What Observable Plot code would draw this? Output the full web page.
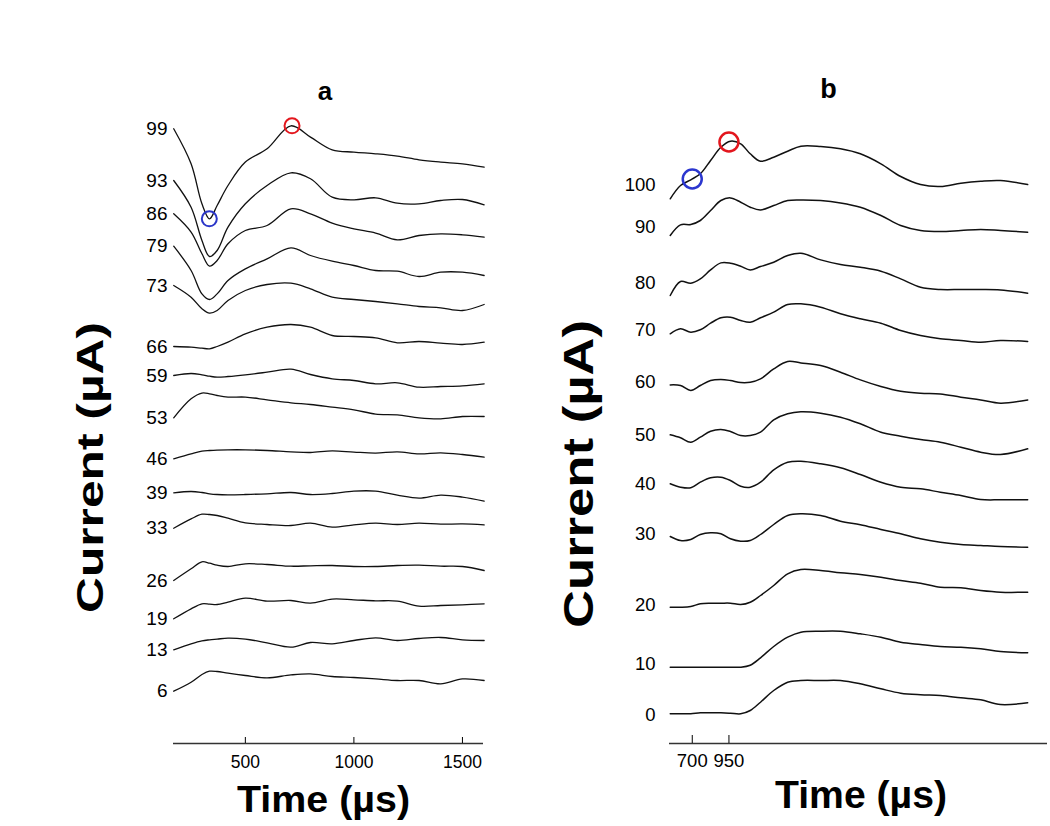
<!DOCTYPE html>
<html><head><meta charset="utf-8">
<script src="https://cdn.jsdelivr.net/npm/d3@7"></script>
<script src="https://cdn.jsdelivr.net/npm/@observablehq/plot@0.6"></script>
<style>
html,body{margin:0;padding:0;background:#fff;}
#wrap{position:relative;width:1050px;height:826px;display:flex;overflow:hidden;}
#pa,#pb{width:525px;height:826px;}
#overlay{position:absolute;left:0;top:0;pointer-events:none;}
</style></head><body>
<div id="wrap"><div id="pa"></div><div id="pb"></div>
<svg id="overlay" width="1050" height="826" font-family="'Liberation Sans', Arial, sans-serif" font-weight="bold" fill="#000">
<text x="325" y="100" font-size="26" text-anchor="middle">a</text>
<text x="828.5" y="98" font-size="27" text-anchor="middle">b</text>
<text x="323.5" y="811.5" font-size="37" text-anchor="middle" textLength="173" lengthAdjust="spacingAndGlyphs">Time (µs)</text>
<text x="861" y="808" font-size="39" text-anchor="middle" textLength="172" lengthAdjust="spacingAndGlyphs">Time (µs)</text>
<text transform="translate(103.3,467.5) rotate(-90)" font-size="37" text-anchor="middle" textLength="291" lengthAdjust="spacingAndGlyphs">Current (µA)</text>
<text transform="translate(593.3,474) rotate(-90)" font-size="42" text-anchor="middle" textLength="308" lengthAdjust="spacingAndGlyphs">Current (µA)</text>
</svg></div>
<script>
// ---------- Panel a ----------
const timesA = [170, 250, 300, 335, 370, 420, 500, 600, 710, 800, 900, 1000, 1100, 1200, 1300, 1400, 1500, 1600];
const ticksA = [500, 1000, 1500];
const labelsA = ["99","93","86","79","73","66","59","53","46","39","33","26","19","13","6"];
const levelsA = [614.7, 563, 529.7, 497.3, 458, 397, 368, 325.7, 284.7, 250.7, 215.3, 163, 124.7, 93.7, 52.3];
const a99 = [0, -35, -75, -90, -76.7, -56.7, -33.3, -20, 3, -8.3, -21, -23.3, -25, -27.3, -31, -33.3, -35, -38.3];
const a93 = [0, -26.7, -60, -76, -70, -46.7, -23.3, -5, 7.7, 1.7, -16.7, -19.3, -17.3, -22.7, -23.3, -20, -19, -24.3];
const a86 = [0, -18.3, -40, -52.3, -46.7, -30, -16.7, -11.7, 5, 0, -9.3, -15, -19.3, -26, -21.7, -20, -21, -23.3];
const a79 = [0, -24.3, -47.7, -53.3, -47.7, -34.3, -22.7, -12.7, -1.7, -9.3, -15, -19.3, -24.3, -25, -30.3, -26, -26, -29.3];
const a73 = [0, -11.7, -23.3, -27.7, -25, -15, -5, 1, 2.3, -3.3, -11.7, -14, -16, -18.3, -21, -22.3, -25, -19];
const a66 = [0, -0.7, -1.7, -2.3, 0, 4.3, 12.7, 19.3, 22, 19.3, 11, 10, 8.7, 3.7, 5, 3.3, 2, 4.3];
const a59 = [0, 2, 0.7, -0.7, -1.7, -1, 0.7, 3.3, 6.3, 1, -3.3, -5, -8.3, -7.3, -11.7, -11, -10.3, -8.3];
const a53 = [0, 19, 24.7, 24, 22.3, 20.7, 20.7, 18, 15, 13.3, 10.7, 8, 3.7, 3, 0, -1, 1.3, 1.3];
const a46 = [0, 5, 7.7, 8.3, 8.7, 9, 9, 8.3, 7, 6.3, 8, 6.7, 5.7, 7, 5, 6, 4.3, 1.7];
const a39 = [0, 1.3, 0.3, -1, -1.7, -2, -1.7, -1, 0.3, -1.7, -0.7, 1.7, 1.7, -2.3, -5.3, -2.3, -4.3, -8.3];
const a33 = [0, 9.3, 14, 13.7, 12.7, 10, 5.3, 3.7, 2.7, 5, 1, 3.3, 5, 3.7, 5, 4, 4.3, 3.3];
const a26 = [0, 11.7, 18.7, 17.3, 15.3, 14, 16.7, 16, 14.3, 14.7, 15, 14, 14, 15, 15.3, 14.3, 14, 10];
const a19 = [0, 10, 15, 14.7, 14.3, 16.7, 20.7, 17.7, 18.3, 15.7, 19.7, 19, 18, 17.7, 12.7, 13.3, 14, 15];
const a13 = [0, 6, 9, 10, 10.7, 11.7, 10.7, 7, 2.7, 7.3, 6, 9.3, 12, 9.3, 11.3, 12.3, 10, 9.3];
const a6  = [0, 9, 16.7, 20, 19.7, 18, 15.7, 13.3, 16.3, 17.3, 14.7, 13.7, 12.3, 10.7, 10.7, 7.3, 12.3, 10.7];
const tracesA = [a99, a93, a86, a79, a73, a66, a59, a53, a46, a39, a33, a26, a19, a13, a6];
const markTimesA = [334, 715];
const markValuesA = [524.7, 617.7];
const markColorsA = ["#2b36c8", "#e3161d"];

// ---------- Panel b ----------
const timesB = [550, 620, 690, 755, 825, 895, 960, 1030, 1095, 1165, 1255, 1350, 1440, 1575, 1710, 1845, 1985, 2120, 2255, 2390, 2530, 2665, 2800, 2985];
const ticksB = [700, 950];
const labelsB = ["100","90","80","70","60","50","40","30","20","10","0"];
const levelsB = [558, 516.3, 460.3, 413, 361.3, 308, 259, 209, 138, 79, 28];
const b100 = [-13.3, 0, 5.7, 11.7, 25, 38.3, 44.3, 41.7, 31.7, 24.3, 28.3, 34.3, 39.3, 39, 36.7, 31.7, 21.7, 9, 1, -1, 2.3, 4.3, 5, 1];
const b90  = [-8.3, 2.3, 2.7, 6.7, 16.7, 26.7, 29.3, 25, 20, 17.3, 21.7, 26.7, 27.3, 26.7, 24.3, 20, 11.7, 1.7, -3.3, -4.3, -3.3, -2.3, -3.3, -5];
const b80  = [-12.3, 1.7, 0, 4.3, 13.3, 20.3, 20, 17, 13.3, 16.7, 21, 27.7, 30, 23.3, 18.7, 16, 12, 4.3, -4, -6.3, -6.3, -6.3, -6.7, -10];
const b70  = [-3.3, 1.7, -1.7, 0.7, 7.3, 12.7, 13.3, 10, 8.3, 12.7, 18.3, 26, 26.7, 23.3, 16.7, 11.7, 7.3, 0, -5, -8.3, -10, -11.7, -10, -11];
const b60  = [-2.7, -3.3, -8.3, -3.3, 1.7, 2.7, 1.7, -0.3, 0, 3.3, 13.3, 20.7, 19.3, 16.7, 10, 2.3, -4.3, -9, -11, -11.7, -15, -17.7, -21, -17.7];
const b50  = [0.7, -2.3, -6.7, -1.7, 4.3, 6, 4, 0, 0, 3.3, 15.7, 21.7, 23.7, 22.3, 18.3, 11.7, 3.3, -0.7, -4, -6.7, -11.7, -16.7, -19, -13.3];
const b40  = [0.7, -2.7, -3.3, 2.3, 6.7, 7.3, 4, -1.7, -2.7, 2.3, 14.7, 22.3, 23.3, 20.7, 16.7, 10, 2.3, -2.7, -4.3, -7.7, -11, -15, -15.3, -15.3];
const b30  = [-2, -6, -5, 0, 1.7, 0.7, -4.3, -6.7, -6, 0, 10, 19, 20.7, 19, 13.3, 9.7, 5, 0.7, -4.3, -7.7, -10, -11, -12, -12.7];
const b20  = [-1.7, -1.7, -1, 1.7, 2.3, 2.3, 2.3, 1, 3.3, 10, 20, 31.7, 36, 35, 32.7, 31, 28.3, 25, 22.3, 18.3, 17.7, 15, 13.3, 13.3];
const b10  = [-2.7, -2.7, -2.7, -2.7, -2.7, -2.7, -2.7, -2.7, -0.7, 6.7, 18, 27.3, 32.3, 33.3, 33.3, 30.7, 27.3, 22.3, 20, 18, 17.3, 15.7, 13, 11.7];
const b0   = [1.7, 1.7, 1.7, 2.7, 2.7, 2.7, 2.3, 1.7, 5, 13.3, 25, 33.3, 35, 35, 35, 31.7, 26.7, 22.3, 20.7, 20, 17.7, 15.7, 11, 12.7];
const tracesB = [b100, b90, b80, b70, b60, b50, b40, b30, b20, b10, b0];
const markTimesB = [700, 950];
const markValuesB = [564.5, 601.5];
const markColorsB = ["#2b36cf", "#e3161d"];

function rowsFor(times, levels, labels, traces) {
  return traces.flatMap((tr, i) => tr.map((d, j) => ({t: times[j], v: levels[i] + d, id: labels[i]})));
}
function marksFor(times, values, colors) {
  return times.map((t, i) => ({t, v: values[i], c: colors[i]}));
}

const font = "'Liberation Sans', Arial, sans-serif";

const mapA = new Map(levelsA.map((l, i) => [l, labelsA[i]]));
const chartA = Plot.plot({
  width: 525, height: 826,
  marginLeft: 173, marginRight: 42, marginTop: 103, marginBottom: 83,
  x: {domain: [169, 1597], label: null},
  y: {domain: [0, 640], label: null},
  color: {type: "identity"},
  style: {fontFamily: font, fontSize: "17.5px", color: "#000", background: "#fff", overflow: "visible"},
  marks: [
    Plot.ruleY([0], {stroke: "#333", strokeWidth: 1.5}),
    Plot.axisX({ticks: ticksA, tickSize: -6, tickPadding: 18, tickFormat: d => String(d), fontSize: 17.5}),
    Plot.axisY({ticks: levelsA, tickSize: 0, tickPadding: 6, tickFormat: d => mapA.get(d), fontSize: 19}),
    Plot.line(rowsFor(timesA, levelsA, labelsA, tracesA), {x: "t", y: "v", z: "id", curve: "catmull-rom", stroke: "#111", strokeWidth: 1.3}),
    Plot.dot(marksFor(markTimesA, markValuesA, markColorsA), {x: "t", y: "v", stroke: "c", r: 7.5, strokeWidth: 2, fill: "none"})
  ]
});
document.getElementById("pa").append(chartA);

const mapB = new Map(levelsB.map((l, i) => [l, labelsB[i]]));
const chartB = Plot.plot({
  width: 525, height: 826,
  marginLeft: 144, marginRight: 3, marginTop: 103, marginBottom: 83,
  x: {domain: [545, 3120], label: null},
  y: {domain: [0, 640], label: null},
  color: {type: "identity"},
  style: {fontFamily: font, fontSize: "18.5px", color: "#000", background: "#fff", overflow: "visible"},
  marks: [
    Plot.ruleY([0], {stroke: "#333", strokeWidth: 1.5}),
    Plot.axisX({ticks: ticksB, tickSize: -8, tickPadding: 18, tickFormat: d => String(d), fontSize: 18.5}),
    Plot.axisY({ticks: levelsB, tickSize: 0, tickPadding: 14, tickFormat: d => mapB.get(d), fontSize: 18.5}),
    Plot.line(rowsFor(timesB, levelsB, labelsB, tracesB), {x: "t", y: "v", z: "id", curve: "catmull-rom", stroke: "#111", strokeWidth: 1.5}),
    Plot.dot(marksFor(markTimesB, markValuesB, markColorsB), {x: "t", y: "v", stroke: "c", r: 9.5, strokeWidth: 2.5, fill: "none"})
  ]
});
document.getElementById("pb").append(chartB);
</script>
</body></html>
